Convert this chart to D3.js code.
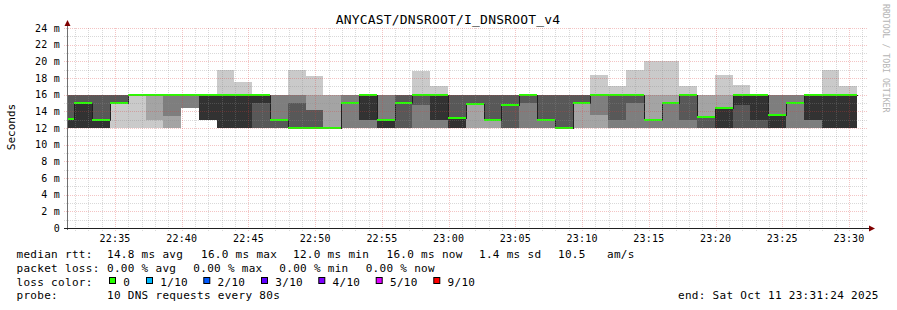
<!DOCTYPE html>
<html><head><meta charset="utf-8">
<script src="https://cdn.jsdelivr.net/npm/d3@7"></script>
<style>
body{margin:0;background:#fff}
text{font-family:"DejaVu Sans Mono",monospace;fill:#000}
</style>
</head><body><svg id="c" width="897" height="310"></svg>
<script>
// ---------- data ----------
const title = "ANYCAST/DNSROOT/I_DNSROOT_v4";
const graphStart = "2025-10-11T22:31:24";
const graphEnd = "2025-10-11T23:31:24";
const firstStep = "2025-10-11T22:30:37";
const stepSeconds = 80;
// 10 sorted ping times (ms) per 80 s step
const pings = [
  [12,12,12,12,12,13.1,16,16,16,16],
  [12,12,12,12,12,15,16,16,16,16],
  [12,12,12,12,12,13,16,16,16,16],
  [12,15,15,15,15,15,16,16,16,16],
  [12,16,16,16,16,16,16,16,16,16],
  [12,13,16,16,16,16,16,16,16,16],
  [12,12,13.5,16,16,16,16,16,16,16],
  [14.4,14.4,14.4,16,16,16,16,16,16,16],
  [13,13,13,13,13,16,16,16,16,16],
  [12,12,12,12,12,16,16,16,16,19],
  [12,12,12,12,12,16,16,16,16,17.5],
  [12,12,12,12,15,16,16,16,16,16],
  [12,12,12,12,13,13,13,16,16,16],
  [12,12,12,12,12,12,15,16,16,19],
  [12,12,12,12,12,12,14.2,14.2,16,18.2],
  [12,12,12,12,12,12,12,12,16,16],
  [12,12,12,15,15,15,15,16,16,16],
  [12,12,12,13,13,16,16,16,16,16],
  [12,12,12,12,12,13,13,16,16,16],
  [12,12,12,12,15,15,16,16,16,16],
  [12,12,12,14.8,16,16,16,16,16,18.8],
  [12,12,12,13,13,16,16,16,16,17],
  [12,12,12,12,12,13.2,16,16,16,16],
  [12,12,14.9,14.9,14.9,14.9,16,16,16,16],
  [12,12,13,13,13,13,16,16,16,16],
  [12,12,12,12,14.8,14.8,16,16,16,16],
  [12,12,12,15,16,16,16,16,16,16],
  [12,12,12,13,13,13,16,16,16,16],
  [12,12,12,12,12,12,16,16,16,16],
  [12,12,15,15,15,15,16,16,16,16],
  [12,12,13.6,16,16,16,16,16,16,18.4],
  [12,12,12,13,16,16,16,16,16,17],
  [12,12,12,15,16,16,16,16,16,19],
  [12,12,12,13,13,13,13,13,16,20],
  [12,12,12,15,15,15,15,15,16,20],
  [12,12,12,13,16,16,16,16,16,17],
  [12,12,12,12,13.3,13.3,13.3,13.3,16,16],
  [12,12,12,12,12,14.4,14.4,14.4,16,18.3],
  [12,12,12,12,14.8,16,16,16,16,17.2],
  [12,12,12,12,13,16,16,16,16,16],
  [12,12,12,12,12,13.6,13.6,16,16,16],
  [12,12,12,15,15,15,15,16,16,16],
  [12,12,12,13,13,16,16,16,16,16],
  [12,12,12,12,12,16,16,16,16,19],
  [12,12,12,12,12,16,16,16,16,17]
];
const medians = [13.1,15,13,15,16,16,16,16,16,16,16,16,13,12,12,12,15,16,13,15,16,16,13.2,14.9,13,14.8,16,13,12,15,16,16,16,13,15,16,13.3,14.4,16,16,13.6,15,16,16,16];
const yTickValues = [0,2,4,6,8,10,12,14,16,18,20,22,24];
const yTickLabels = ["0","2 m","4 m","6 m","8 m","10 m","12 m","14 m","16 m","18 m","20 m","22 m","24 m"];
const xTickLabels = ["22:35","22:40","22:45","22:50","22:55","23:00","23:05","23:10","23:15","23:20","23:25","23:30"];
const rttStats = ["14.8 ms avg","16.0 ms max","12.0 ms min","16.0 ms now","1.4 ms sd","10.5","am/s"];
const lossStats = ["0.00 % avg","0.00 % max","0.00 % min","0.00 % now"];
const lossLabels = ["0","1/10","2/10","3/10","4/10","5/10","9/10"];
const lossColors = ["#26ff00","#00b8ff","#0059ff","#5e00ff","#7e00ff","#dd00ff","#ff0000"];
const probeText = "10 DNS requests every 80s";
const endText = "end: Sat Oct 11 23:31:24 2025";

// ---------- drawing ----------
const parse = d3.timeParse("%Y-%m-%dT%H:%M:%S");
const tStart = parse(graphStart), tEnd = parse(graphEnd), tFirst = parse(firstStep);
const X0 = 67, X1 = 867.7, Y0 = 228, Y1 = 28;
const x = d3.scaleTime().domain([tStart, tEnd]).range([X0, X1]);
const y = d3.scaleLinear().domain([0, 24]).range([Y0, Y1]);
const svg = d3.select("#c");
svg.append("rect").attr("width", 897).attr("height", 310).attr("fill", "#fff");
svg.append("defs").append("clipPath").attr("id", "plot")
  .append("rect").attr("x", X0).attr("y", Y1 - 1).attr("width", X1 - X0).attr("height", Y0 - Y1 + 1);

const steps = pings.map((p, i) => ({
  p, med: medians[i],
  a: d3.timeSecond.offset(tFirst, i * stepSeconds),
  b: d3.timeSecond.offset(tFirst, (i + 1) * stepSeconds)
}));
const smokeColors = d3.range(1, 6).map(i => { const c = Math.floor(190 / 5 * (5 - i)) + 50; return d3.rgb(c, c, c).formatHex(); });

const g = svg.append("g").attr("clip-path", "url(#plot)");
for (let b = 0; b < 5; b++) {
  g.selectAll(null).data(steps).join("rect")
    .attr("x", d => Math.round(x(d.a))).attr("width", d => Math.round(x(d.b)) - Math.round(x(d.a)))
    .attr("y", d => Math.round(y(d.p[9 - b])))
    .attr("height", d => Math.round(y(d.p[b])) - Math.round(y(d.p[9 - b])))
    .attr("fill", smokeColors[b]).attr("shape-rendering", "crispEdges");
}
// median: dark step line, then loss-coloured band
const medPts = steps.flatMap(d => [[Math.round(x(d.a)) + 0.5, Math.round(y(d.med)) + 0.5], [Math.round(x(d.b)) + 0.5, Math.round(y(d.med)) + 0.5]]);
g.append("path").attr("d", d3.line()(medPts)).attr("fill", "none")
  .attr("stroke", "#202020").attr("stroke-width", 1).attr("shape-rendering", "crispEdges");
g.selectAll(null).data(steps).join("rect")
  .attr("x", d => Math.round(x(d.a))).attr("width", d => Math.round(x(d.b)) - Math.round(x(d.a)))
  .attr("y", d => Math.round(y(d.med)) - 1).attr("height", 2)
  .attr("fill", lossColors[0]).attr("shape-rendering", "crispEdges");

// grid (drawn over the smoke, semi-transparent, dotted)
const minorCol = "rgba(140,140,140,0.33)", majorCol = "rgba(220,60,60,0.3)";
const gridG = svg.append("g").attr("shape-rendering", "crispEdges");
const majorTimes = xTickLabels.map(l => parse("2025-10-11T" + l + ":00"));
const majorSet = new Set(majorTimes.map(t => +t));
const minuteTimes = d3.timeMinute.range(tStart, tEnd).filter(t => !majorSet.has(+t));
d3.range(1, 24, 2).forEach(v => {
  gridG.append("line").attr("x1", X0 - 3).attr("x2", X1).attr("y1", Math.round(y(v)) + 0.5).attr("y2", Math.round(y(v)) + 0.5)
    .attr("stroke", minorCol).attr("stroke-dasharray", "1,1");
});
minuteTimes.forEach(t => {
  gridG.append("line").attr("y1", Y1).attr("y2", Y0 + 3).attr("x1", Math.round(x(t)) + 0.5).attr("x2", Math.round(x(t)) + 0.5)
    .attr("stroke", minorCol).attr("stroke-dasharray", "1,1");
});
yTickValues.filter(v => v > 0).forEach(v => {
  gridG.append("line").attr("x1", X0 - 3).attr("x2", X1).attr("y1", Math.round(y(v)) + 0.5).attr("y2", Math.round(y(v)) + 0.5)
    .attr("stroke", majorCol).attr("stroke-dasharray", "1,1");
});
majorTimes.forEach(t => {
  gridG.append("line").attr("y1", Y1).attr("y2", Y0 + 3).attr("x1", Math.round(x(t)) + 0.5).attr("x2", Math.round(x(t)) + 0.5)
    .attr("stroke", majorCol).attr("stroke-dasharray", "1,1");
});

// axes
svg.append("line").attr("x1", 67.5).attr("x2", 67.5).attr("y1", Y0 + 2).attr("y2", 24)
  .attr("stroke", "#707070").attr("shape-rendering", "crispEdges");
svg.append("line").attr("x1", 64).attr("x2", 870).attr("y1", 228.5).attr("y2", 228.5)
  .attr("stroke", "#202020").attr("shape-rendering", "crispEdges");
svg.append("path").attr("d", "M64.5,26 L70.5,26 L67.5,20 Z").attr("fill", "#800000");
svg.append("path").attr("d", "M869,225.5 L869,231.5 L875,228.5 Z").attr("fill", "#800000");

// axis labels
svg.selectAll(null).data(yTickValues).join("text")
  .attr("x", 60).attr("y", d => y(d) + 3.5).attr("text-anchor", "end")
  .attr("font-size", 10).attr("letter-spacing", 0.2)
  .text((d, i) => yTickLabels[i]);
svg.selectAll(null).data(majorTimes).join("text")
  .attr("x", d => x(d)).attr("y", 242).attr("text-anchor", "middle")
  .attr("font-size", 10).attr("letter-spacing", 0.2)
  .text((d, i) => xTickLabels[i]);

svg.append("text").attr("x", 448).attr("y", 24).attr("text-anchor", "middle")
  .attr("font-size", 13).attr("letter-spacing", 0.2).text(title);
svg.append("text").attr("transform", "translate(15,127) rotate(-90)").attr("text-anchor", "middle")
  .attr("font-size", 11).text("Seconds");
svg.append("text").attr("transform", "translate(882.5,4) rotate(90)")
  .attr("font-size", 8.2).style("fill", "#b4b4b4").text("RRDTOOL / TOBI OETIKER");

// legend
const L = svg.append("g").attr("font-size", 11).attr("letter-spacing", 0.3).attr("xml:space", "preserve");
const lt = (tx, ty, s) => L.append("text").attr("x", tx).attr("y", ty).text(s);
lt(16.5, 257.5, "median rtt:");
[107, 201, 293, 386.5, 479, 558, 607].forEach((px, i) => lt(px, 257.5, rttStats[i]));
lt(16.5, 271.5, "packet loss:");
[107, 193.3, 279.3, 365.7].forEach((px, i) => lt(px, 271.5, lossStats[i]));
lt(16.5, 285.5, "loss color:");
[109, 146, 203.3, 261, 318.3, 375.7, 433.3].forEach((px, i) => {
  L.append("rect").attr("x", px + 0.5).attr("y", 277.5).attr("width", 6).attr("height", 6)
    .attr("fill", lossColors[i]).attr("stroke", "#000").attr("stroke-width", 1);
  lt(px + 14.3, 285.5, lossLabels[i]);
});
lt(16.5, 299.3, "probe:");
lt(107, 299.3, probeText);
lt(678, 299.3, endText);
</script></body></html>
